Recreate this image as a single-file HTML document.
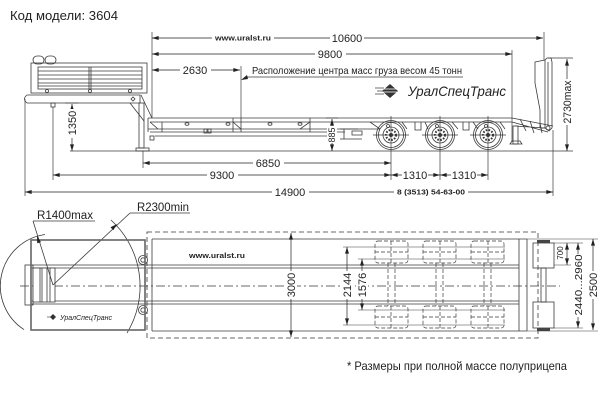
<!DOCTYPE html>
<html><head><meta charset="utf-8"><style>
html,body{margin:0;padding:0;background:#fff;}
svg{display:block;}
text{font-family:"Liberation Sans",Arial,sans-serif;fill:#222;}
</style></head><body>
<svg width="600" height="403" viewBox="0 0 600 403" xmlns="http://www.w3.org/2000/svg">
<defs>
<marker id="ar" viewBox="0 0 10 6" refX="10" refY="3" markerWidth="7" markerHeight="4" orient="auto-start-reverse" markerUnits="userSpaceOnUse"><path d="M0,0 L10,3 L0,6 z" fill="#222"/></marker>
</defs>

<text x="10" y="20" font-size="13" textLength="108" lengthAdjust="spacingAndGlyphs">Код модели: 3604</text>

<!-- ============ SIDE VIEW ============ -->
<g stroke="#3a3a3a" stroke-width="0.8" fill="none">
  <!-- gooseneck -->
  <rect x="33" y="56" width="11" height="8" rx="4"/>
  <rect x="45" y="56" width="11" height="8" rx="4"/>
  <rect x="31" y="63" width="116" height="30"/>
  <rect x="38" y="67" width="104" height="22"/>
  <line x1="38" y1="71" x2="142" y2="71"/><line x1="38" y1="75" x2="142" y2="75"/>
  <line x1="38" y1="79" x2="142" y2="79"/><line x1="38" y1="83" x2="142" y2="83"/>
  <line x1="38" y1="86" x2="142" y2="86"/>
  <line x1="89" y1="67" x2="89" y2="89"/><line x1="91" y1="67" x2="91" y2="89"/>
  <circle cx="47" cy="91" r="1.5"/><circle cx="90" cy="91" r="1.5"/><circle cx="130" cy="91" r="1.5"/>
  <path d="M27,95 L140,95 L140,103 L27,103 Q22,99 27,95 z"/>
  <rect x="51" y="103" width="4" height="4"/>
  <path d="M130,103 L144,121"/><path d="M141,95 L152,118"/>
  <path d="M131,99 l2,-2 l2,2 l-2,2 z"/>
  <rect x="139" y="103" width="5" height="45"/>
  <rect x="136" y="148" width="13" height="3"/>
  <!-- main deck -->
  <line x1="148" y1="118" x2="512" y2="118"/>
  <line x1="150" y1="122" x2="512" y2="122"/>
  <line x1="148" y1="129" x2="380" y2="129"/>
  <line x1="150" y1="132" x2="345" y2="132"/>
  <line x1="155" y1="136" x2="330" y2="136"/>
  <rect x="150" y="136" width="4" height="4"/>
  <line x1="148" y1="118" x2="148" y2="132"/>
  <path d="M150,122 L158,129"/>
  <line x1="162" y1="122" x2="162" y2="132"/>
  <line x1="233" y1="118" x2="233" y2="132"/><line x1="241" y1="118" x2="241" y2="132"/>
  <path d="M233,122 L241,129"/>
  <line x1="310" y1="118" x2="310" y2="132"/><path d="M300,129 L310,122"/>
  <ellipse cx="187" cy="124" rx="2" ry="1.3"/><ellipse cx="228" cy="124" rx="2" ry="1.3"/>
  <ellipse cx="270" cy="124" rx="2" ry="1.3"/><ellipse cx="300" cy="124" rx="2" ry="1.3"/>
  <rect x="204" y="129" width="3" height="4"/><rect x="208" y="129" width="3" height="4"/>
  <!-- I-beam stub -->
  <path d="M340,129 h18 M340,139 h22 M344,129 v10 M352,131 h10 v4 h-10 z"/>
  <!-- suspension -->
  <path d="M370,122 L380,129 M402,122 L407,129 M415,122 v8 h6 v-8 M425,122 L428,129 M452,122 L458,129 M463,122 v8 h6 v-8 M473,122 L478,129 M500,122 L505,129"/>
  <circle cx="388" cy="126" r="1.5"/><circle cx="437" cy="126" r="1.5"/><circle cx="486" cy="126" r="1.5"/>
  <!-- wheels -->
  <circle cx="391" cy="135" r="14.5"/><circle cx="391" cy="135" r="12.5"/><circle cx="391" cy="135" r="8"/>
  <circle cx="440" cy="135" r="14.5"/><circle cx="440" cy="135" r="12.5"/><circle cx="440" cy="135" r="8"/>
  <circle cx="488" cy="135" r="14.5"/><circle cx="488" cy="135" r="12.5"/><circle cx="488" cy="135" r="8"/>
  <!-- rear / ramp -->
  <path d="M512,118 L553,126 M512,122 L548,132 M515,126 L545,128 M520,119 L526,131 M530,121 L534,133 M540,123 L542,133"/>
  <rect x="513" y="126" width="5" height="18"/><path d="M510,144 h12 l-2,-3 h-8 z"/>
  <path d="M535,62 L545,60 L545,128 L540,128 L540,110 L535,83 z"/>
  <path d="M545,60 L547,58 L551,58 L552,62 L552,128 L549,131 L545,128"/>
  <line x1="548" y1="62" x2="548" y2="126"/>
  <circle cx="548" cy="128" r="2"/>
</g>
<!-- wheel hubs -->
<g fill="none" stroke="#333" stroke-width="2" stroke-dasharray="1.6,1.4">
  <circle cx="391" cy="135" r="5"/><circle cx="440" cy="135" r="5"/><circle cx="488" cy="135" r="5"/>
</g>
<g fill="#333">
  <circle cx="391" cy="135" r="2"/><circle cx="440" cy="135" r="2"/><circle cx="488" cy="135" r="2"/>
</g>

<!-- side extension lines -->
<g stroke="#3a3a3a" stroke-width="0.7" fill="none">
  <line x1="152" y1="32" x2="152" y2="118"/>
  <line x1="544" y1="32" x2="544" y2="60"/>
  <line x1="512" y1="50" x2="512" y2="142"/>
  <line x1="241" y1="66" x2="241" y2="118"/>
  <line x1="70" y1="151" x2="573" y2="151"/>
  <line x1="548" y1="58" x2="573" y2="58"/>
  <line x1="143" y1="151" x2="143" y2="168"/>
  <line x1="53" y1="107" x2="53" y2="180"/>
  <line x1="25" y1="99" x2="25" y2="196"/>
  <line x1="553" y1="130" x2="553" y2="196"/>
  <line x1="391" y1="116" x2="391" y2="180"/><line x1="440" y1="116" x2="440" y2="180"/><line x1="488" y1="116" x2="488" y2="180"/>
  <line x1="373" y1="135" x2="409" y2="135"/><line x1="422" y1="135" x2="458" y2="135"/><line x1="470" y1="135" x2="506" y2="135"/>
  <line x1="65" y1="103" x2="78" y2="103"/>
  <line x1="326" y1="118" x2="338" y2="118"/>
  <line x1="245" y1="77" x2="463" y2="77"/>
</g>
<!-- side dimension lines -->
<g stroke="#222" stroke-width="0.7" marker-start="url(#ar)" marker-end="url(#ar)">
  <line x1="152" y1="38" x2="543" y2="38"/>
  <line x1="152" y1="54" x2="512" y2="54"/>
  <line x1="152" y1="70" x2="240" y2="70"/>
  <line x1="143" y1="163" x2="391" y2="163"/>
  <line x1="53" y1="175" x2="391" y2="175"/>
  <line x1="391" y1="175" x2="440" y2="175"/>
  <line x1="440" y1="175" x2="488" y2="175"/>
  <line x1="25" y1="192" x2="553" y2="192"/>
  <line x1="72" y1="104" x2="72" y2="151"/>
  <line x1="332" y1="119" x2="332" y2="151"/>
  <line x1="567" y1="59" x2="567" y2="151"/>
</g>
<path d="M241,80 L247,75 L248,79 z" fill="#222"/>
<!-- label backgrounds -->
<g fill="#fff">
  <rect x="212" y="34" width="62" height="8"/><rect x="330" y="32" width="34" height="12"/>
  <rect x="315" y="48" width="31" height="12"/><rect x="180" y="64" width="31" height="12"/>
  <rect x="253" y="157" width="31" height="12"/><rect x="207" y="169" width="31" height="12"/>
  <rect x="402" y="169" width="26" height="12"/><rect x="451" y="169" width="26" height="12"/>
  <rect x="272" y="186" width="37" height="12"/><rect x="394" y="188" width="74" height="8"/>
  <rect x="66" y="109" width="12" height="29"/><rect x="327" y="126" width="10" height="17"/>
  <rect x="561" y="79" width="12" height="46"/>
</g>
<g font-size="11" text-anchor="middle">
  <text x="347" y="42">10600</text>
  <text x="330" y="58">9800</text>
  <text x="195" y="74">2630</text>
  <text x="268" y="167">6850</text>
  <text x="222" y="179">9300</text>
  <text x="415" y="179">1310</text>
  <text x="464" y="179">1310</text>
  <text x="290" y="196">14900</text>
  <text transform="translate(76,123) rotate(-90)">1350</text>
  <text transform="translate(571,102) rotate(-90)" textLength="43" lengthAdjust="spacingAndGlyphs">2730max</text>
  <text transform="translate(335,135) rotate(-90)" font-size="9">885</text>
</g>
<text x="243" y="40.5" font-size="7.5" font-weight="bold" text-anchor="middle" textLength="56" lengthAdjust="spacingAndGlyphs">www.uralst.ru</text>
<text x="431" y="194.5" font-size="7" font-weight="bold" text-anchor="middle" textLength="68" lengthAdjust="spacingAndGlyphs">8 (3513) 54-63-00</text>
<text x="252" y="74" font-size="10.5" textLength="210" lengthAdjust="spacingAndGlyphs">Расположение центра масс груза весом 45 тонн</text>

<!-- side logo -->
<g>
  <path d="M390,84 L398,91 L390,98 L382,91 z" fill="#333"/>
  <g stroke="#fff" stroke-width="0.8"><line x1="382" y1="89" x2="398" y2="89"/><line x1="382" y1="92" x2="398" y2="92"/></g>
  <g stroke="#333" stroke-width="0.7"><line x1="375" y1="88" x2="384" y2="88"/><line x1="377" y1="91" x2="383" y2="91"/><line x1="375" y1="94" x2="384" y2="94"/></g>
  <text x="408" y="96" font-size="14" font-style="italic" fill="#333" textLength="98" lengthAdjust="spacingAndGlyphs">УралСпецТранс</text>
</g>

<!-- ============ TOP VIEW ============ -->
<g stroke="#3a3a3a" stroke-width="0.8" fill="none">
  <path d="M147,232 H538 V338 H147 Z" stroke-dasharray="5,3"/>
  <line x1="152" y1="239" x2="527" y2="239"/><line x1="152" y1="331" x2="527" y2="331"/>
  <line x1="152" y1="239" x2="152" y2="331"/>
  <line x1="519" y1="239" x2="519" y2="331"/><line x1="527" y1="239" x2="527" y2="331"/>
  <line x1="31" y1="265" x2="519" y2="265"/><line x1="31" y1="268" x2="519" y2="268"/>
  <line x1="31" y1="301" x2="519" y2="301"/><line x1="31" y1="304" x2="519" y2="304"/>
  <line x1="20" y1="286" x2="560" y2="286" stroke-dasharray="9,3,2,3"/>
  <rect x="25" y="265" width="8" height="40"/>
  <rect x="33" y="268" width="22" height="34" fill="#fff"/>
  <line x1="40" y1="268" x2="40" y2="302"/><line x1="47" y1="268" x2="47" y2="302"/>
  <line x1="42" y1="268" x2="42" y2="302"/><line x1="50" y1="268" x2="50" y2="302"/>
  <circle cx="143" cy="260" r="4.5" fill="#fff"/><circle cx="143" cy="260" r="2.2"/>
  <circle cx="143" cy="310" r="4.5" fill="#fff"/><circle cx="143" cy="310" r="2.2"/>
  <path d="M45,234.5 A52,52 0 0 0 24,329.6"/>
  <path d="M111,220 A90,90 0 0 1 127,333"/>
  <line x1="33" y1="221" x2="95" y2="221"/>
  <line x1="33" y1="221" x2="53" y2="285"/>
  <line x1="130" y1="213" x2="190" y2="213"/>
  <line x1="130" y1="213" x2="53" y2="285"/>
  <rect x="533" y="243" width="21" height="25"/>
  <rect x="533" y="302" width="21" height="26"/>
  <rect x="541" y="268" width="5" height="34"/>
</g>
<rect x="31" y="240" width="114" height="90" fill="none" stroke="#666" stroke-width="1.6"/>
<g fill="#444"><rect x="537" y="240" width="13" height="3"/><rect x="537" y="328" width="13" height="3"/></g>
<path d="M37,236 L41,242.1 L37.2,243.3 z" fill="#222"/>
<path d="M117,224 L113.3,230.3 L110.5,227.3 z" fill="#222"/>

<!-- dashed wheels -->
<g stroke="#3a3a3a" stroke-width="0.7" fill="none" stroke-dasharray="4,2">
  <rect x="375" y="241" width="33" height="22" rx="3"/><rect x="375" y="306" width="33" height="22" rx="3"/>
  <rect x="423" y="241" width="33" height="22" rx="3"/><rect x="423" y="306" width="33" height="22" rx="3"/>
  <rect x="471" y="241" width="33" height="22" rx="3"/><rect x="471" y="306" width="33" height="22" rx="3"/>
  <line x1="375" y1="252" x2="408" y2="252"/><line x1="375" y1="317" x2="408" y2="317"/>
  <line x1="423" y1="252" x2="456" y2="252"/><line x1="423" y1="317" x2="456" y2="317"/>
  <line x1="471" y1="252" x2="504" y2="252"/><line x1="471" y1="317" x2="504" y2="317"/>
  <line x1="391" y1="241" x2="391" y2="263"/><line x1="391" y1="306" x2="391" y2="328"/>
  <line x1="440" y1="241" x2="440" y2="263"/><line x1="440" y1="306" x2="440" y2="328"/>
  <line x1="488" y1="241" x2="488" y2="263"/><line x1="488" y1="306" x2="488" y2="328"/>
  <line x1="388" y1="263" x2="388" y2="306"/><line x1="395" y1="263" x2="395" y2="306"/>
  <line x1="436" y1="263" x2="436" y2="306"/><line x1="443" y1="263" x2="443" y2="306"/>
  <line x1="484" y1="263" x2="484" y2="306"/><line x1="491" y1="263" x2="491" y2="306"/>
</g>
<!-- top extension lines -->
<g stroke="#3a3a3a" stroke-width="0.6" fill="none">
  <line x1="343" y1="247" x2="505" y2="247"/><line x1="343" y1="325" x2="505" y2="325"/>
  <line x1="358" y1="259" x2="505" y2="259"/><line x1="358" y1="310" x2="505" y2="310"/>
  <line x1="527" y1="239" x2="598" y2="239"/><line x1="527" y1="331" x2="598" y2="331"/>
  <line x1="554" y1="243" x2="583" y2="243"/><line x1="554" y1="328" x2="583" y2="328"/>
  <line x1="554" y1="265" x2="571" y2="265"/>
</g>
<g stroke="#222" stroke-width="0.7" marker-start="url(#ar)" marker-end="url(#ar)">
  <line x1="291" y1="233" x2="291" y2="337"/>
  <line x1="347" y1="247" x2="347" y2="325"/>
  <line x1="362" y1="259" x2="362" y2="310"/>
  <line x1="567" y1="243" x2="567" y2="265"/>
  <line x1="578" y1="243" x2="578" y2="328"/>
  <line x1="593" y1="239" x2="593" y2="330"/>
</g>
<g fill="#fff">
  <rect x="285" y="271" width="12" height="28"/><rect x="341" y="271" width="12" height="28"/>
  <rect x="356" y="271" width="12" height="28"/><rect x="572" y="254" width="12" height="63"/>
  <rect x="587" y="271" width="12" height="28"/>
</g>
<g font-size="11" text-anchor="middle">
  <text transform="translate(295,285) rotate(-90)">3000</text>
  <text transform="translate(351,285) rotate(-90)">2144</text>
  <text transform="translate(366,285) rotate(-90)">1576</text>
  <text transform="translate(597,285) rotate(-90)">2500</text>
  <text transform="translate(582,285) rotate(-90)" font-size="10" textLength="61" lengthAdjust="spacingAndGlyphs">2440...2960</text>
  <text transform="translate(563,253) rotate(-90)" font-size="8">700</text>
</g>
<text x="217" y="258" font-size="7.5" font-weight="bold" text-anchor="middle" textLength="56" lengthAdjust="spacingAndGlyphs">www.uralst.ru</text>
<text x="37" y="219" font-size="11.5" textLength="56" lengthAdjust="spacingAndGlyphs">R1400max</text>
<text x="137" y="211" font-size="11.5" textLength="52" lengthAdjust="spacingAndGlyphs">R2300min</text>
<path d="M53,314 L56,317 L53,320 L50,317 z" fill="#333"/>
<line x1="47" y1="317" x2="51" y2="317" stroke="#333" stroke-width="0.6"/>
<text x="60" y="320" font-size="7" font-style="italic" fill="#333" textLength="52" lengthAdjust="spacingAndGlyphs">УралСпецТранс</text>

<text x="347" y="370" font-size="12" textLength="220" lengthAdjust="spacingAndGlyphs">* Размеры при полной массе полуприцепа</text>
</svg>
</body></html>
